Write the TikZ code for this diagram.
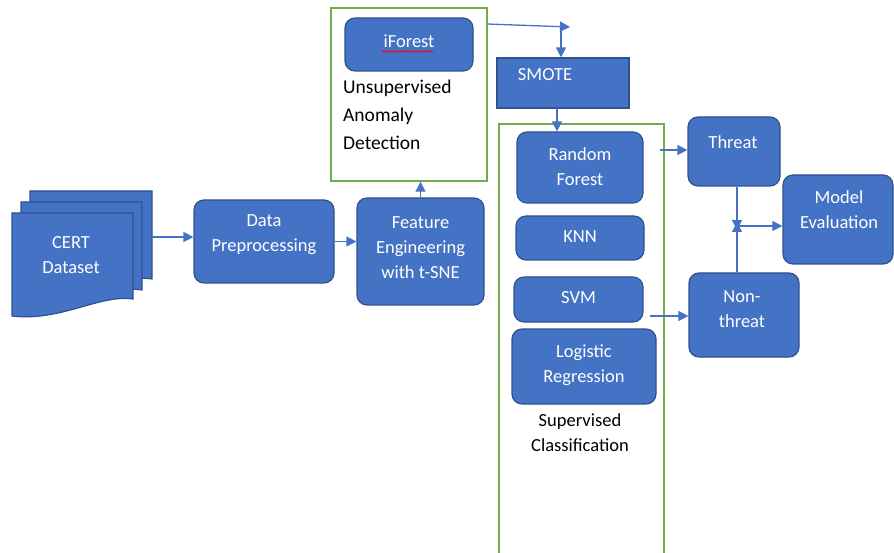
\documentclass[tikz,border=0pt]{standalone}
\usepackage{fontspec}
\setmainfont{Carlito}
\usetikzlibrary{arrows.meta,decorations.pathmorphing}
\definecolor{blu}{HTML}{4472C4}
\definecolor{bdr}{HTML}{2F528F}
\definecolor{grn}{HTML}{70AD47}
\tikzset{
  box/.style={draw=bdr, fill=blu, line width=1.2pt, rounded corners=10pt, inner sep=0pt},
  sqbox/.style={draw=bdr, fill=blu, line width=1.2pt, inner sep=0pt},
  grp/.style={draw=grn, line width=1.4pt, inner sep=0pt},
  sheet/.style={draw=bdr, fill=blu, line width=1.2pt},
  wt/.style={text=white, font=\fontsize{18.5}{25}\selectfont, align=center, inner sep=0pt},
  bt/.style={text=black, font=\fontsize{19.5}{27}\selectfont, align=left, inner sep=0pt, anchor=west},
  arr/.style={draw=blu, line width=1.3pt, -{Triangle[length=10pt,width=10pt]}},
  ln/.style={draw=blu, line width=1.3pt}
}
\begin{document}
\begin{tikzpicture}[x=1pt,y=-1pt]
\useasboundingbox (0,0) rectangle (894,553);
% green groups
\node[grp, minimum width=156pt, minimum height=173pt] (ugrp) at (409,94.5) {};
\draw[grp] (499,560) -- (499,124) -- (664,124) -- (664,560);
% CERT multi-document
\draw[sheet] (30,191) -- (152,191) -- (152,279) .. controls (120,274) and (80,296) .. (30,294) -- cycle;
\draw[sheet] (21,202) -- (142,202) -- (142,290) .. controls (110,285) and (70,307) .. (21,305) -- cycle;
\draw[sheet] (12,213) -- (133,213) -- (133,299) .. controls (100,294) and (60,322) .. (12,316) -- cycle;
\node[wt] (certT) at (71,255) {CERT\\Dataset};
\coordinate (certR) at (152,237);
% boxes
\node[box, minimum width=140pt, minimum height=83pt] (dp) at (264,241.5) {};
\node[wt] at (264,234.5) {Data\\Preprocessing};
\node[box, minimum width=127pt, minimum height=107pt] (fe) at (420.5,251.5) {};
\node[wt] at (420.5,248) {Feature\\Engineering\\with t-SNE};
\node[box, minimum width=128pt, minimum height=53pt] (ifo) at (409,44.5) {};
\node[wt] (ifoT) at (409,41) {iForest};
\draw[red, line width=0.7pt, decorate, decoration={snake, amplitude=0.8pt, segment length=3pt}] (382,51.5) -- (433,51.5);
\node[bt] at (343,88) {Unsupervised};
\node[bt] at (343,116) {Anomaly};
\node[bt] at (343,143) {Detection};
\node[sqbox, minimum width=132pt, minimum height=50pt] (smote) at (563,83) {};
\node[wt] at (545,75) {SMOTE};
\node[box, minimum width=126pt, minimum height=71pt] (rf) at (580,167.5) {};
\node[wt] at (580,166.5) {Random\\Forest};
\node[box, minimum width=128pt, minimum height=44pt] (knn) at (580,238) {};
\node[wt] at (580,237) {KNN};
\node[box, minimum width=129pt, minimum height=45pt] (svm) at (578.5,299.5) {};
\node[wt] at (578.5,298) {SVM};
\node[box, minimum width=144pt, minimum height=75pt] (lr) at (584,366.5) {};
\node[wt] at (584,365) {Logistic\\Regression};
\node[text=black, font=\fontsize{18.5}{25}\selectfont, align=center, inner sep=0pt] (supT) at (580,432.5) {Supervised\\Classification};
\node[box, minimum width=92pt, minimum height=69pt] (thr) at (734,151.5) {};
\node[wt] at (733,142) {Threat};
\node[box, minimum width=110pt, minimum height=84pt] (nthr) at (744,315) {};
\node[wt] at (742,309.5) {Non-\\threat};
\node[box, minimum width=110pt, minimum height=89pt] (me) at (838,219.5) {};
\node[wt] at (839,210) {Model\\Evaluation};
% connectors
\draw[arr] (certR) -- (certR -| dp.west);
\draw[arr] (dp.east) -- (dp.east -| fe.west);
\draw[arr] (fe.north) -- (fe.north |- ugrp.south);
\coordinate (uo) at (487,24);
\coordinate (ue) at (570,27);
\coordinate (uj) at (561,26.5);
\draw[arr] (uo) -- (ue);
\draw[arr] (uj) -- (uj |- smote.north);
\coordinate (so) at (557,108);
\draw[arr] (so) -- (so |- rf.north);
\coordinate (rfo) at (660,150);
\draw[arr] (rfo) -- (rfo -| thr.west);
\coordinate (svo) at (650,316);
\draw[arr] (svo) -- (svo -| nthr.west);
\coordinate (jd) at (737,230);
\coordinate (ju) at (737,222);
\coordinate (jm) at (737,226);
\draw[arr] (thr.south -| jd) -- (jd);
\draw[arr] (nthr.north -| ju) -- (ju);
\draw[arr] (jm) -- (jm -| me.west);
\end{tikzpicture}
\end{document}
